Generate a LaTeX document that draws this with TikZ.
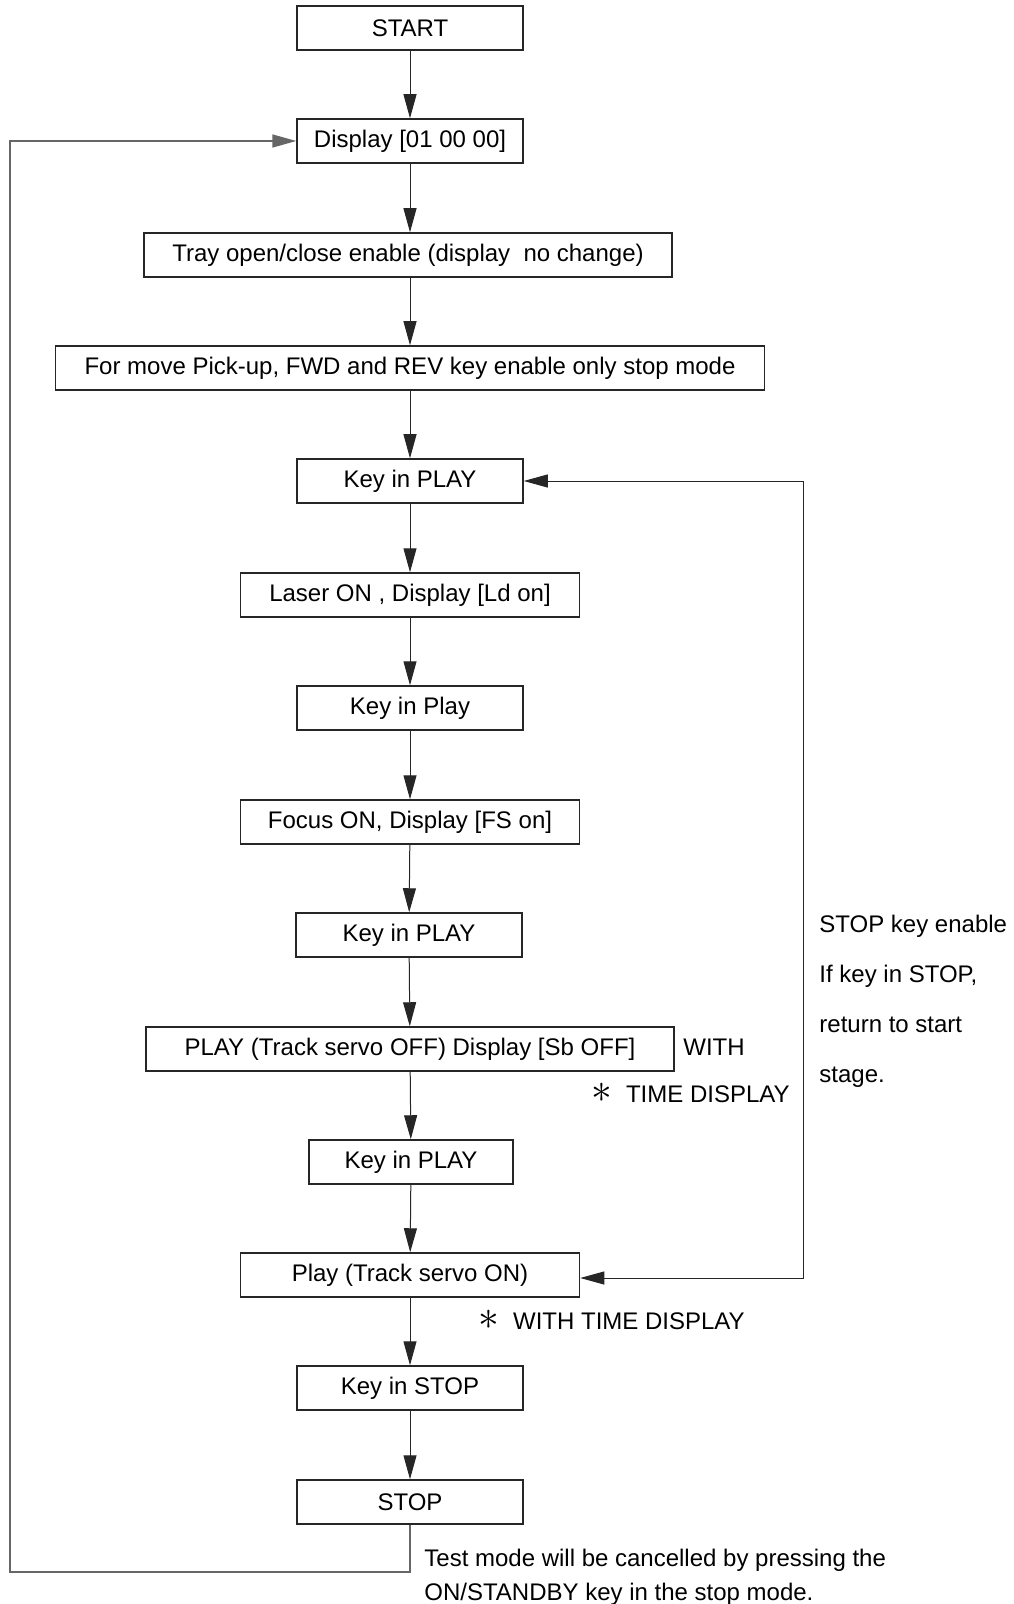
\documentclass[tikz,border=0pt]{standalone}
\usepackage{fontspec}
\setmainfont{Liberation Sans}
\usetikzlibrary{arrows.meta,positioning}

\newcommand{\starmark}{{\fontsize{20}{20}\selectfont$\ast$}\hspace{7pt}}

\begin{document}
\begin{tikzpicture}[
    x=0.5pt,y=-0.5pt,
    box/.style={draw=black!85, line width=0.75pt, minimum height=22pt, inner sep=0pt, font=\fontsize{12}{14}\selectfont},
    note/.style={inner sep=0pt, align=left, font=\fontsize{12}{14}\selectfont},
    edge/.style={-{Triangle[length=12pt,width=6.5pt]}, draw=black!85, line width=0.5pt},
    backline/.style={edge, draw=black!60, line width=0.8pt}
  ]
    \useasboundingbox (0,0) rectangle (1013,1604);

    % main column
    \node[box, minimum width=113pt] (start) at (410,28) {START};
    \node[box, minimum width=113pt] (disp) at (410,141) {Display [01 00 00]};
    \node[box, minimum width=264pt] (tray) at (408,255) {Tray open/close enable (display~~no change)};
    \node[box, minimum width=354.5pt] (pickup) at (410,368) {For move Pick-up, FWD and REV key enable only stop mode};
    \node[box, minimum width=113pt] (play1) at (410,481) {Key in PLAY};
    \node[box, minimum width=169.5pt] (laser) at (410,595) {Laser ON , Display [Ld on]};
    \node[box, minimum width=113pt] (play2) at (410,708) {Key in Play};
    \node[box, minimum width=169.5pt] (focus) at (410,822) {Focus ON, Display [FS on]};
    \node[box, minimum width=113pt] (play3) at (409,935) {Key in PLAY};
    \node[box, minimum width=264pt] (sboff) at (410,1049) {PLAY (Track servo OFF) Display [Sb OFF]};
    \node[box, minimum width=102pt] (play4) at (411,1162) {Key in PLAY};
    \node[box, minimum width=169.5pt] (sbon) at (410,1275) {Play (Track servo ON)};
    \node[box, minimum width=113pt] (keystop) at (410,1388) {Key in STOP};
    \node[box, minimum width=113pt] (stop) at (410,1502) {STOP};

    \draw[edge] (start) -- (disp);
    \draw[edge] (disp) -- (tray.north -| disp);
    \draw[edge] (tray.south -| disp) -- (pickup.north -| disp);
    \draw[edge] (pickup.south -| disp) -- (play1);
    \draw[edge] (play1) -- (laser);
    \draw[edge] (laser) -- (play2);
    \draw[edge] (play2) -- (focus);
    \draw[edge] (focus) -- (play3);
    \draw[edge] (play3) -- (sboff);
    \draw[edge] (sboff) -- (play4);
    \draw[edge] (play4) -- (sbon);
    \draw[edge] (sbon) -- (keystop);
    \draw[edge] (keystop) -- (stop);

    % side notes
    \node[note, anchor=west] (with) at (683,1047) {WITH};
    \node[note, anchor=east] (tdisp) at (790,1093) {\starmark TIME DISPLAY};
    \node[note, anchor=west] (wtdisp) at (478,1320) {\starmark WITH TIME DISPLAY};
    \node[note, anchor=west, font=\fontsize{12}{25}\selectfont] (stopnote) at (819,1001.5) {STOP key enable\\If key in STOP,\\return to start\\stage.};
    \node[note, anchor=west, font=\fontsize{12}{17}\selectfont] (cancel) at (424,1577) {Test mode will be cancelled by pressing the\\ON/STANDBY key in the stop mode.};

    % return paths
    \coordinate (rtop) at (803,481);
    \coordinate (rbot) at (803,1278);
    \draw[edge, {Triangle[length=12pt,width=6.5pt]}-{Triangle[length=12pt,width=6.5pt]}] (play1.east) -- (rtop) -- (rbot) -- (sbon.east |- rbot);

    \coordinate (lbot) at (10,1572);
    \coordinate (ltop) at (10,141);
    \draw[backline] (stop.south) -- (stop.south |- lbot) -- (lbot) -- (ltop) -- (disp.west);
\end{tikzpicture}
\end{document}
